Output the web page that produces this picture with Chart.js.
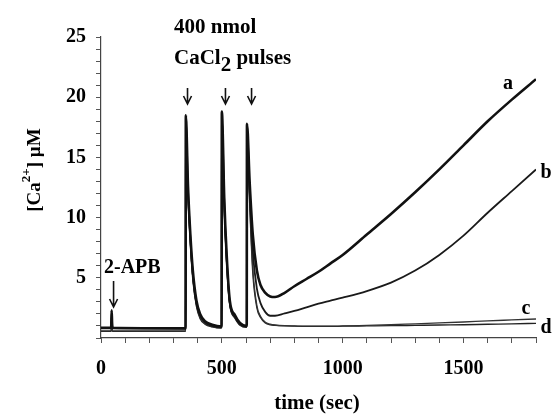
<!DOCTYPE html>
<html>
<head>
<meta charset="utf-8">
<script src="https://cdn.jsdelivr.net/npm/chart.js@4"></script>
<style>
  html, body { margin: 0; padding: 0; background: #fff; }
  #wrap { width: 554px; height: 414px; }
</style>
</head>
<body>
<div id="wrap"><canvas id="calcium"></canvas></div>
<script>
(function () {
    'use strict';

    // time grid (sec), shared by all traces
    var times = [0, 42, 44, 46, 48, 350, 351, 360, 370, 380, 395, 410, 430, 460, 499,
        500, 510, 520, 533, 554, 575, 603, 604, 615, 628, 645, 660, 680, 700, 720,
        760, 800, 850, 900, 950, 1000, 1100, 1200, 1300, 1400, 1500, 1600, 1700, 1800];

    // [Ca2+] (uM)
    var traceA = [0.85, 0.85, 2.3, 1.2, 0.85, 0.8, 18.5, 12.6, 8.5, 5.6, 3.1, 2.0, 1.4, 1.1, 0.95,
        18.8, 11.6, 6.9, 3.1, 1.9, 1.25, 1.0, 17.8, 13.0, 8.6, 5.6, 4.4, 3.75, 3.45, 3.4,
        3.75, 4.3, 4.9, 5.5, 6.2, 6.9, 8.6, 10.3, 12.1, 14.0, 16.0, 18.0, 19.8, 21.5];
    var traceB = [0.8, 0.8, 1.8, 1.0, 0.8, 0.78, 18.3, 12.3, 8.2, 5.3, 2.9, 1.85, 1.3, 1.0, 0.9,
        18.6, 11.3, 6.6, 2.9, 1.75, 1.15, 0.95, 17.6, 12.2, 7.2, 4.1, 2.9, 2.15, 1.85, 1.85,
        2.05, 2.25, 2.55, 2.85, 3.1, 3.35, 3.9, 4.6, 5.6, 6.9, 8.5, 10.4, 12.2, 14.0];
    var traceC = [0.6, 0.6, 1.5, 0.8, 0.6, 0.58, 18.1, 12.0, 7.9, 5.0, 2.7, 1.7, 1.2, 0.95, 0.85,
        18.4, 11.0, 6.3, 2.8, 1.7, 1.1, 0.9, 17.5, 11.5, 5.8, 2.7, 1.8, 1.3, 1.15, 1.08,
        1.02, 1.0, 0.98, 0.98, 0.98, 1.0, 1.05, 1.1, 1.18, 1.25, 1.33, 1.42, 1.5, 1.58];
    var traceD = [0.55, 0.55, 1.3, 0.7, 0.55, 0.55, 17.9, 11.8, 7.7, 4.8, 2.6, 1.6, 1.15, 0.92, 0.82,
        18.2, 10.8, 6.1, 2.7, 1.65, 1.05, 0.88, 17.3, 11.2, 5.4, 2.5, 1.7, 1.25, 1.1, 1.05,
        1.0, 0.98, 0.97, 0.96, 0.96, 0.98, 1.0, 1.02, 1.05, 1.08, 1.1, 1.14, 1.17, 1.22];

    var traceNames = ['a', 'b', 'c', 'd'];
    var pulseArrowTimes = [358, 515, 623];
    var apbArrowTime = 52;
    var yTickLabels = [5, 10, 15, 20, 25];
    var xTickLabels = [0, 500, 1000, 1500];

    var FONT = "'Liberation Serif', 'Times New Roman', serif";

    function points(values) {
        return times.map(function (t, i) {
            return {x: t, y: values[i]};
        });
    }

    function arrow(ctx, x, y1, y2) {
        ctx.beginPath();
        ctx.moveTo(x, y1);
        ctx.lineTo(x, y2);
        ctx.moveTo(x - 4, y2 - 8);
        ctx.lineTo(x, y2);
        ctx.lineTo(x + 4, y2 - 8);
        ctx.stroke();
    }

    var labelsPlugin = {
        id: 'labels',
        afterDraw: function (chart) {
            var ctx = chart.ctx;
            var xs = chart.scales.x;
            ctx.save();
            ctx.fillStyle = '#000';
            ctx.strokeStyle = '#111';
            ctx.lineWidth = 1.6;
            ctx.textBaseline = 'alphabetic';
            ctx.textAlign = 'left';

            // pulse annotation
            ctx.font = 'bold 21px ' + FONT;
            ctx.fillText('400 nmol', 174, 33);
            var x = 174;
            ctx.fillText('CaCl', x, 64);
            x += ctx.measureText('CaCl').width;
            ctx.fillText('2', x, 71);
            x += ctx.measureText('2').width;
            ctx.fillText(' pulses', x, 64);
            pulseArrowTimes.forEach(function (t) {
                arrow(ctx, xs.getPixelForValue(t), 88, 104);
            });

            // 2-APB
            ctx.font = 'bold 20px ' + FONT;
            ctx.fillText('2-APB', 104, 273);
            arrow(ctx, xs.getPixelForValue(apbArrowTime), 281, 307);

            // trace letters
            ctx.textAlign = 'center';
            ctx.textBaseline = 'middle';
            ctx.fillText(traceNames[0], 508, 84);
            ctx.fillText(traceNames[1], 546, 173);
            ctx.fillText(traceNames[2], 526, 309);
            ctx.fillText(traceNames[3], 546, 328);

            // x title
            ctx.font = 'bold 21px ' + FONT;
            ctx.fillText('time (sec)', 317, 404);

            // y title with superscript
            ctx.translate(33, 170);
            ctx.rotate(-Math.PI / 2);
            ctx.textAlign = 'left';
            ctx.textBaseline = 'middle';
            ctx.font = 'bold 19px ' + FONT;
            var w1 = ctx.measureText('[Ca').width;
            ctx.font = 'bold 13px ' + FONT;
            var w2 = ctx.measureText('2+').width;
            ctx.font = 'bold 19px ' + FONT;
            var w3 = ctx.measureText('] \u00b5M').width;
            var sx = -(w1 + w2 + w3) / 2;
            ctx.fillText('[Ca', sx, 2);
            ctx.font = 'bold 13px ' + FONT;
            ctx.fillText('2+', sx + w1, -6);
            ctx.font = 'bold 19px ' + FONT;
            ctx.fillText('] \u00b5M', sx + w1 + w2, 2);
            ctx.restore();
        }
    };

    function dataset(label, values, width, color) {
        return {
            label: label,
            data: points(values),
            borderColor: color,
            borderWidth: width,
            pointRadius: 0,
            cubicInterpolationMode: 'monotone',
            fill: false
        };
    }

    new Chart(document.getElementById('calcium'), {
        type: 'line',
        data: {
            datasets: [
                dataset('a', traceA, 2.6, '#111'),
                dataset('b', traceB, 1.8, '#1a1a1a'),
                dataset('c', traceC, 1.3, '#333'),
                dataset('d', traceD, 1.3, '#222')
            ]
        },
        options: {
            responsive: true,
            maintainAspectRatio: false,
            animation: false,
            layout: {padding: {top: 37, right: 18, left: 0, bottom: 0}},
            plugins: {
                legend: {display: false},
                tooltip: {enabled: false}
            },
            scales: {
                x: {
                    type: 'linear',
                    min: 0,
                    max: 1800,
                    afterFit: function (scale) { scale.height = 76; },
                    border: {display: true, color: '#444', width: 1.2},
                    grid: {drawOnChartArea: false, drawTicks: true, tickLength: 5, tickColor: '#555'},
                    ticks: {
                        stepSize: 100,
                        autoSkip: false,
                        maxRotation: 0,
                        padding: 14,
                        color: '#000',
                        font: {family: FONT, size: 20, weight: 'bold'},
                        callback: function (v) {
                            return xTickLabels.indexOf(v) >= 0 ? v : '';
                        }
                    }
                },
                y: {
                    min: 0,
                    max: 25,
                    afterFit: function (scale) { scale.width = 101; },
                    border: {display: true, color: '#444', width: 1.2},
                    grid: {drawOnChartArea: false, drawTicks: true, tickLength: 5, tickColor: '#555'},
                    ticks: {
                        stepSize: 1,
                        autoSkip: false,
                        padding: 10,
                        color: '#000',
                        font: {family: FONT, size: 20, weight: 'bold'},
                        callback: function (v) {
                            return yTickLabels.indexOf(v) >= 0 ? v : '';
                        }
                    }
                }
            }
        },
        plugins: [labelsPlugin]
    });
})();
</script>
</body>
</html>
